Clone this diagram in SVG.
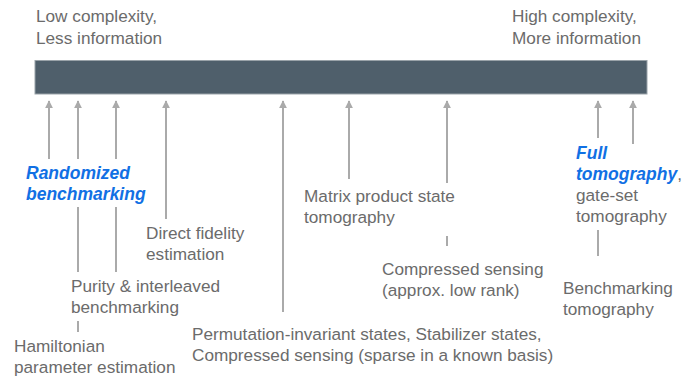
<svg xmlns="http://www.w3.org/2000/svg" width="687" height="378" viewBox="0 0 687 378">
<style>
text{font-family:"Liberation Sans",Arial,sans-serif;font-size:17.2px;fill:#6b6b6b}
.hl{fill:#1170e4;font-weight:bold;font-style:italic;font-size:17.5px}
.ln{stroke:#aaaaaa;stroke-width:2;fill:none}
</style>
<defs>
<marker id="ah" viewBox="0 0 10 10" refX="9" refY="5" markerWidth="8" markerHeight="8" markerUnits="userSpaceOnUse" orient="auto">
<path d="M0,0 L10,5 L0,10 Z" fill="#aaaaaa"/>
</marker>
</defs>
<rect width="687" height="378" fill="#ffffff"/>
<g id="axis">
<rect x="35" y="60.5" width="612" height="33.5" fill="#4f5f6b" stroke="#9aa3a9" stroke-width="1"/>
<text x="36" y="22">Low complexity,</text>
<text x="36" y="44">Less information</text>
<text x="512" y="22">High complexity,</text>
<text x="512" y="44">More information</text>
</g>
<g id="connectors">
<line class="ln" x1="49" y1="159" x2="49" y2="101" marker-end="url(#ah)"/>
<line class="ln" x1="78" y1="159" x2="78" y2="101" marker-end="url(#ah)"/>
<line class="ln" x1="78" y1="207" x2="78" y2="272"/>
<line class="ln" x1="78" y1="321" x2="78" y2="332"/>
<line class="ln" x1="116" y1="159" x2="116" y2="101" marker-end="url(#ah)"/>
<line class="ln" x1="116" y1="207" x2="116" y2="272"/>
<line class="ln" x1="166" y1="219" x2="166" y2="101" marker-end="url(#ah)"/>
<line class="ln" x1="283" y1="312" x2="283" y2="101" marker-end="url(#ah)"/>
<line class="ln" x1="349" y1="179" x2="349" y2="101" marker-end="url(#ah)"/>
<line class="ln" x1="447" y1="183" x2="447" y2="101" marker-end="url(#ah)"/>
<line class="ln" x1="447" y1="236" x2="447" y2="246"/>
<line class="ln" x1="598" y1="138" x2="598" y2="101" marker-end="url(#ah)"/>
<line class="ln" x1="598" y1="230" x2="598" y2="256"/>
<line class="ln" x1="633" y1="144" x2="633" y2="101" marker-end="url(#ah)"/>
</g>
<g id="rb">
<text class="hl" x="26" y="179">Randomized</text>
<text class="hl" x="26" y="200">benchmarking</text>
</g>
<g id="dfe">
<text x="146" y="239">Direct fidelity</text>
<text x="146" y="260">estimation</text>
</g>
<g id="purity">
<text x="71" y="292">Purity &amp; interleaved</text>
<text x="71" y="313">benchmarking</text>
</g>
<g id="hamiltonian">
<text x="14" y="352">Hamiltonian</text>
<text x="14" y="373">parameter estimation</text>
</g>
<g id="perm">
<text x="192" y="340">Permutation-invariant states, Stabilizer states,</text>
<text x="192" y="361">Compressed sensing (sparse in a known basis)</text>
</g>
<g id="cs">
<text x="382" y="275">Compressed sensing</text>
<text x="382" y="296">(approx. low rank)</text>
</g>
<g id="mps">
<text x="304" y="202">Matrix product state</text>
<text x="304" y="223">tomography</text>
</g>
<g id="full">
<text x="576" y="159"><tspan class="hl">Full</tspan></text>
<text x="576" y="180"><tspan class="hl">tomography</tspan>,</text>
<text x="576" y="201">gate-set</text>
<text x="576" y="222">tomography</text>
</g>
<g id="bt">
<text x="563" y="294">Benchmarking</text>
<text x="563" y="315">tomography</text>
</g>
</svg>
